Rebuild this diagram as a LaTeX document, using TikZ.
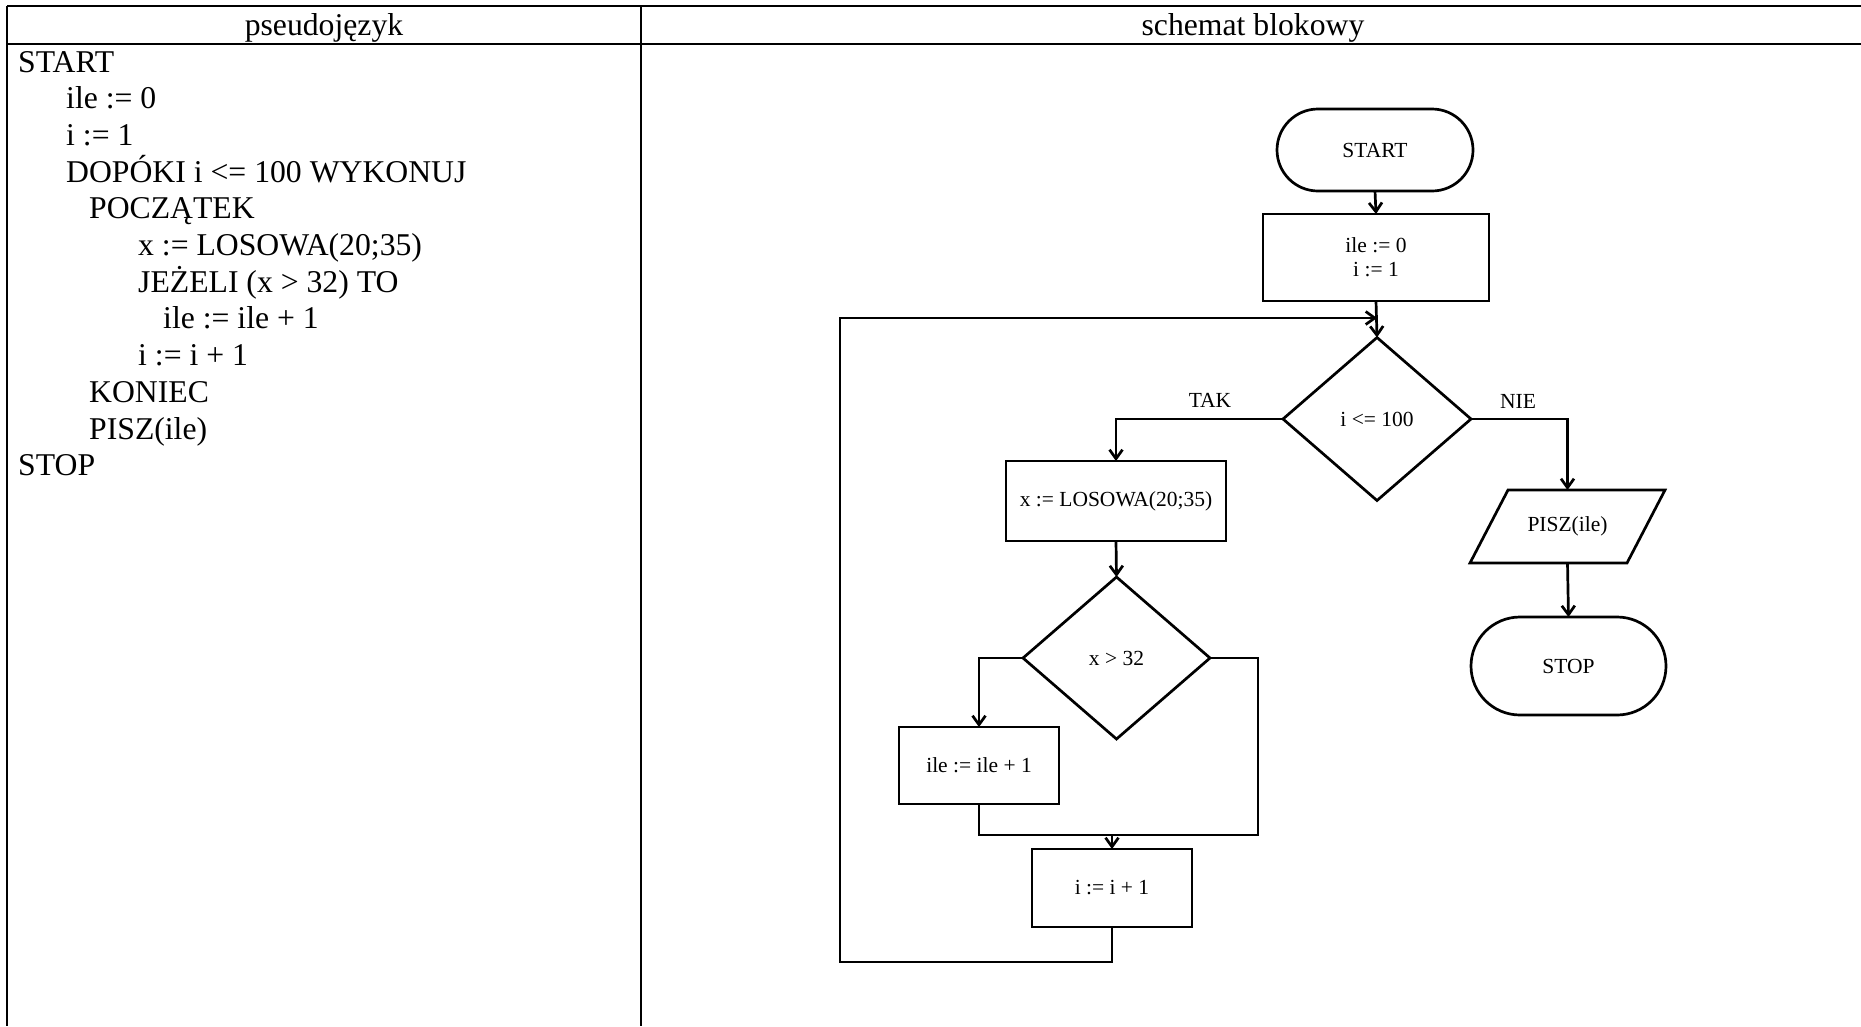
\documentclass[tikz,border=0pt]{standalone}
\usepackage{fontspec}
\setmainfont{Liberation Serif}
\usetikzlibrary{arrows.meta,shapes.geometric,shapes.misc}

\begin{document}
\begin{tikzpicture}[x=1pt,y=-1pt,
  flow/.style={line width=2.7pt},
  arr/.style={flow,-{Straight Barb[length=9pt,width=13pt]}},
  grid/.style={line width=2pt},
  blk/.style={draw,line width=2.7pt,inner sep=0pt,outer sep=0pt,
              font=\fontsize{21.5}{24}\selectfont,align=center},
  term/.style={blk,rounded rectangle},
  proc/.style={blk,rectangle},
  dec/.style={blk,diamond},
  iobody/.style={blk,rectangle,draw=none},
  ioedge/.style={line width=2.7pt,line join=miter},
  code/.style={anchor=base west,inner sep=0pt,font=\fontsize{31.7}{37}\selectfont},
  head/.style={anchor=base,inner sep=0pt,font=\fontsize{31.7}{37}\selectfont},
  lbl/.style={inner sep=0pt,font=\fontsize{21.5}{24}\selectfont},
]
\useasboundingbox (0,0) rectangle (1861,1026);

% table frame
\draw[grid] (7,6) -- (1861,6);
\draw[grid] (7,44) -- (1861,44);
\draw[grid] (7,6) -- (7,1026);
\draw[grid] (641,6) -- (641,1026);

% column headers
\node[head] (hcode) at (324,35) {pseudojęzyk};
\node[head] (hflow) at (1253,35) {schemat blokowy};

% pseudocode
\node[code] (c0)  at (18,72)    {START};
\node[code] (c1)  at (66,108.7) {ile := 0};
\node[code] (c2)  at (66,145.4) {i := 1};
\node[code] (c3)  at (66,182.1) {DOPÓKI i <= 100 WYKONUJ};
\node[code] (c4)  at (89,218.8) {POCZĄTEK};
\node[code] (c5)  at (138,255.5) {x := LOSOWA(20;35)};
\node[code] (c6)  at (138,292.2) {JEŻELI (x > 32) TO};
\node[code] (c7)  at (163,328.9) {ile := ile + 1};
\node[code] (c8)  at (138,365.6) {i := i + 1};
\node[code] (c9)  at (89,402.3) {KONIEC};
\node[code] (c10) at (89,439)   {PISZ(ile)};
\node[code] (c11) at (18,475.7) {STOP};

% flowchart blocks
\node[term,minimum width=196pt,minimum height=82pt] (start) at (1375,150) {START};
\node[proc,minimum width=226pt,minimum height=87pt] (init) at (1376,257.5) {ile := 0\\i := 1};
\node[dec,minimum width=188pt,minimum height=163pt] (d1) at (1377,419) {i <= 100};
\node[iobody,minimum width=157pt,minimum height=73pt] (pisz) at (1567.5,526.5) {PISZ(ile)};
\node[term,minimum width=195pt,minimum height=98pt] (stop) at (1568.5,666) {STOP};
\node[proc,minimum width=220pt,minimum height=80pt] (los) at (1116,501) {x := LOSOWA(20;35)};
\node[dec,minimum width=187pt,minimum height=162pt] (d2) at (1116.5,658) {x > 32};
\node[proc,minimum width=160pt,minimum height=77pt] (ilep) at (979,765.5) {ile := ile + 1};
\node[proc,minimum width=160pt,minimum height=78pt] (inc) at (1112,888) {i := i + 1};

% slanted outline of the output block
\draw[ioedge] ([xshift=-19pt]pisz.south west) -- ([xshift=19pt]pisz.north west)
  -- ([xshift=19pt]pisz.north east) -- ([xshift=-19pt]pisz.south east) -- cycle;

\node[lbl] (tak) at (1210,400) {TAK};
\node[lbl] (nie) at (1518,401) {NIE};

\coordinate (mr) at (1258,835);
\coordinate (lb) at (840,962);
\coordinate (lt) at (840,318);

% connectors
\draw[arr] (start.south) -- (init.north);
\draw[arr] (init.south) -- (d1.north);
\draw[arr] (d1.west) -| (los.north);
\draw[arr] (d1.east) -| (pisz.north);
\draw[arr] (pisz.south) -- (stop.north);
\draw[arr] (los.south) -- (d2.north);
\draw[arr] (d2.west) -| (ilep.north);
\draw[flow] (d2.east) -| (mr) -- (ilep.south |- mr) -- (ilep.south);
\draw[arr] (inc.north |- mr) -- (inc.north);
\draw[arr] (inc.south) |- (lb) -- (lt) -- (lt -| d1.north);
\end{tikzpicture}
\end{document}
